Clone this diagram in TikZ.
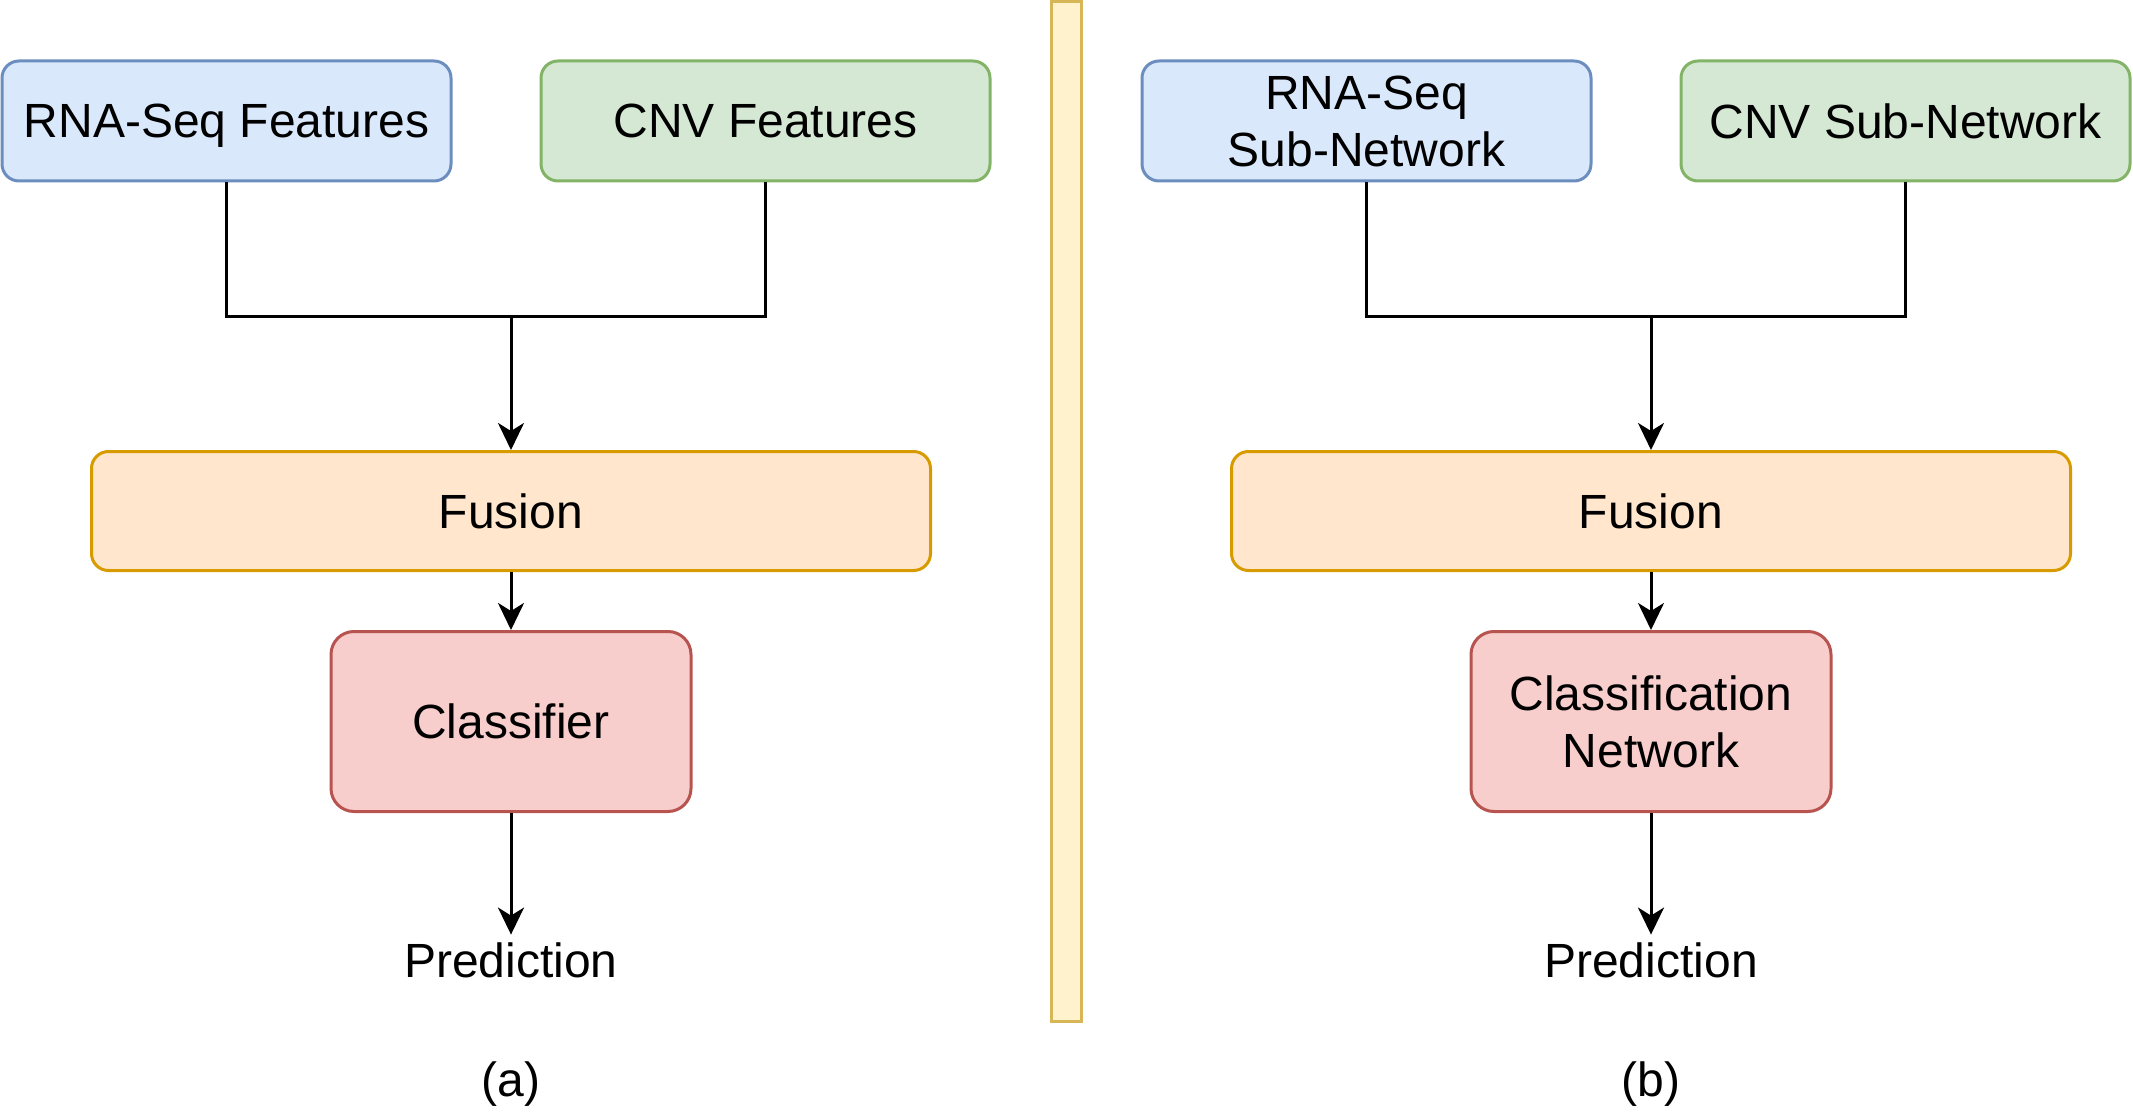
\documentclass[tikz,border=0pt]{standalone}
\usepackage{fontspec}
\setmainfont{Liberation Sans}
\usetikzlibrary{arrows.meta}
\definecolor{bluef}{HTML}{DAE8FC}\definecolor{blued}{HTML}{6C8EBF}
\definecolor{greenf}{HTML}{D5E8D4}\definecolor{greend}{HTML}{82B366}
\definecolor{orangef}{HTML}{FFE6CC}\definecolor{oranged}{HTML}{D79B00}
\definecolor{redf}{HTML}{F8CECC}\definecolor{redd}{HTML}{B85450}
\definecolor{yellowf}{HTML}{FFF2CC}\definecolor{yellowd}{HTML}{D6B656}
\tikzset{
  box/.style={draw, line width=1.5pt, rounded corners=8.5pt, align=center,
    font=\fontsize{24}{28.5}\selectfont, inner sep=0pt},
  smallbox/.style={box, minimum width=224.5pt, minimum height=60pt},
  bluebox/.style={smallbox, fill=bluef, draw=blued},
  greenbox/.style={smallbox, fill=greenf, draw=greend},
  fusionbox/.style={box, fill=orangef, draw=oranged, minimum width=419.5pt, minimum height=59.5pt},
  classbox/.style={box, fill=redf, draw=redd, rounded corners=11.5pt, minimum width=180pt, minimum height=90pt},
  nodepth/.style={text depth=0pt},
  plain/.style={font=\fontsize{24}{28.5}\selectfont, inner sep=3.7pt},
  conn/.style={line width=1.5pt, black},
  arr/.style={conn, -{Stealth[length=13.5pt, width=13pt, inset=4pt]}},
}
\begin{document}
\begin{tikzpicture}[x=0.5pt, y=-0.5pt]
\useasboundingbox (0,0) rectangle (2133,1113);
% divider
\draw[line width=1.5pt, draw=yellowd, fill=yellowf] (1051.5,1.5) rectangle (1081,1021);
% panel (a)
\node[bluebox, nodepth] (rnaa) at (226.5,121) {RNA-Seq Features};
\node[greenbox] (cnva) at (765.5,121) {CNV Features};
\node[fusionbox] (fusa) at (511,511) {Fusion};
\node[classbox] (clsa) at (511,721.5) {Classifier};
\node[plain] (preda) at (511,960) {Prediction};
\node[plain] (laba) at (511,1084) {(a)};
\coordinate (ja) at (511,316);
\draw[conn] (rnaa.south) |- (ja) -| (cnva.south);
\draw[arr] (ja) -- (fusa.north);
\draw[arr] (fusa.south) -- (clsa.north);
\draw[arr] (clsa.south) -- (preda.north);
% panel (b)
\node[bluebox] (rnab) at (1366.5,121) {RNA-Seq\\Sub-Network};
\node[greenbox] (cnvb) at (1905.5,121) {CNV Sub-Network};
\node[fusionbox] (fusb) at (1651,511) {Fusion};
\node[classbox] (clsb) at (1651,721.5) {Classification\\Network};
\node[plain] (predb) at (1651,960) {Prediction};
\node[plain] (labb) at (1651,1084) {(b)};
\coordinate (jb) at (1651,316);
\draw[conn] (rnab.south) |- (jb) -| (cnvb.south);
\draw[arr] (jb) -- (fusb.north);
\draw[arr] (fusb.south) -- (clsb.north);
\draw[arr] (clsb.south) -- (predb.north);
\end{tikzpicture}
\end{document}
